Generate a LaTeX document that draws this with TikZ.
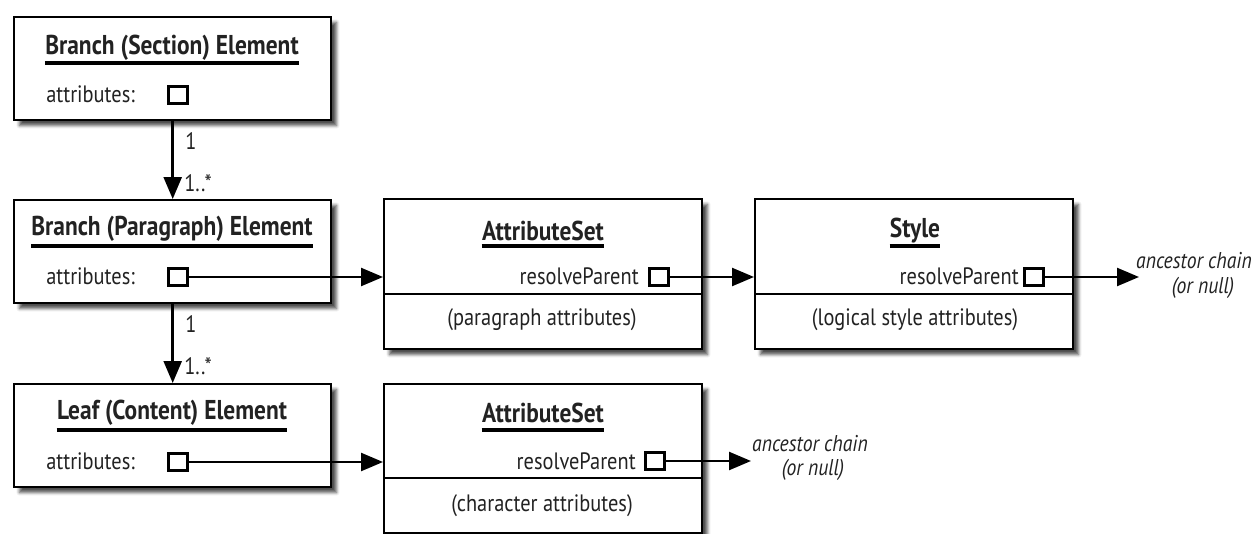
\documentclass[tikz,border=0pt]{standalone}
\usepackage{fontspec}
\setmainfont{PT Sans}[FakeStretch=0.86]
\usetikzlibrary{arrows.meta,shadows.blur}
\definecolor{ink}{HTML}{222222}
\begin{document}
\begin{tikzpicture}[x=0.02cm,y=-0.02cm,
  box/.style={draw=black, line width=1.4pt, fill=white, inner sep=0pt, anchor=north west,
    blur shadow={shadow xshift=3pt, shadow yshift=-3pt, shadow blur radius=1.8pt, shadow opacity=70}},
  sq/.style={draw=black, line width=1.6pt, fill=white, inner sep=0pt, minimum width=0.38cm, minimum height=0.34cm},
  ttl/.style={text=ink, inner sep=0pt, font=\fontsize{15.5}{17}\selectfont\bfseries},
  lbl/.style={text=ink, inner sep=0pt, font=\fontsize{13.5}{16}\selectfont},
  itl/.style={text=ink, inner sep=0pt, font=\fontsize{13}{15}\selectfont\itshape},
  ul/.style={draw=black, line width=1.8pt},
  divl/.style={draw=black, line width=1.1pt},
  arr/.style={draw=black, line width=1.4pt, -{Triangle[width=0.36cm,length=0.44cm]}}]
\useasboundingbox (0,0) rectangle (1259,534);
% boxes
\node[box, minimum width=6.34cm, minimum height=2.06cm] (B1) at (13,16) {};
\node[box, minimum width=6.34cm, minimum height=2.06cm] (B2) at (13,199) {};
\node[box, minimum width=6.34cm, minimum height=2.06cm] (B3) at (13,383) {};
\node[box, minimum width=6.36cm, minimum height=3.0cm] (A1) at (383,198) {};
\node[box, minimum width=6.36cm, minimum height=3.0cm] (S) at (754,198) {};
\node[box, minimum width=6.36cm, minimum height=2.98cm] (A2) at (383,383) {};
% dividers
\coordinate (d1) at (0,294);
\coordinate (d2) at (0,478);
\draw[divl] (A1.west |- d1) -- (A1.east |- d1);
\draw[divl] (S.west |- d1) -- (S.east |- d1);
\draw[divl] (A2.west |- d2) -- (A2.east |- d2);
% titles
\node[ttl] (t1) at (172,48) {Branch (Section) Element};
\node[ttl] (t2) at (172,229) {Branch (Paragraph) Element};
\node[ttl] (t3) at (172,413) {Leaf (Content) Element};
\node[ttl] (t4) at (543,231) {AttributeSet};
\node[ttl] (t5) at (915,231) {Style};
\node[ttl] (t6) at (543,413) {AttributeSet};
\coordinate (u1) at (0,63);
\coordinate (u2) at (0,246);
\coordinate (u3) at (0,430);
\draw[ul] (t1.west |- u1) -- (t1.east |- u1);
\draw[ul] (t2.west |- u2) -- (t2.east |- u2);
\draw[ul] (t3.west |- u3) -- (t3.east |- u3);
\draw[ul] (t4.west |- u2) -- (t4.east |- u2);
\draw[ul] (t5.west |- u2) -- (t5.east |- u2);
\draw[ul] (t6.west |- u3) -- (t6.east |- u3);
% attributes rows
\node[lbl, anchor=west] (a1) at (46,94) {attributes:};
\node[lbl, anchor=west] (a2) at (46,276) {attributes:};
\node[lbl, anchor=west] (a3) at (46,461) {attributes:};
\node[sq] (s1) at (178,95) {};
\node[sq] (s2) at (178,277) {};
\node[sq] (s3) at (178,462) {};
% resolveParent rows
\node[lbl, anchor=east] (r1) at (639,276) {resolveParent};
\node[lbl, anchor=east] (r2) at (1019,276) {resolveParent};
\node[lbl, anchor=east] (r3) at (636,461) {resolveParent};
\node[sq] (p1) at (659,277) {};
\node[sq] (p2) at (1034,277) {};
\node[sq] (p3) at (655,461) {};
% lower compartments
\node[lbl] (c1) at (542,320) {(paragraph attributes)};
\node[lbl] (c2) at (915,320) {(logical style attributes)};
\node[lbl] (c3) at (542,506) {(character attributes)};
% ancestor chain labels
\node[itl] (n1) at (1194,261) {ancestor chain};
\node[itl] (n1b) at (1203,288) {(or null)};
\node[itl] (n2) at (810,444) {ancestor chain};
\node[itl] (n2b) at (813,470) {(or null)};
\coordinate (e1) at (1139,277);
\coordinate (e2) at (751,461);
% connectors
\draw[arr] (B1.south) -- (B2.north);
\draw[arr] (B2.south) -- (B3.north);
\draw[arr] (s2.east) -- (s2.east -| A1.west);
\draw[arr] (s3.east) -- (s3.east -| A2.west);
\draw[arr] (p1.east) -- (p1.east -| S.west);
\draw[arr] (p2.east) -- (e1);
\draw[arr] (p3.east) -- (e2);
% multiplicities
\node[lbl] (m1) at (191,141) {1};
\node[lbl, anchor=west] (m2) at (184,183) {1..*};
\node[lbl] (m3) at (191,324) {1};
\node[lbl, anchor=west] (m4) at (184,366) {1..*};
\end{tikzpicture}
\end{document}
